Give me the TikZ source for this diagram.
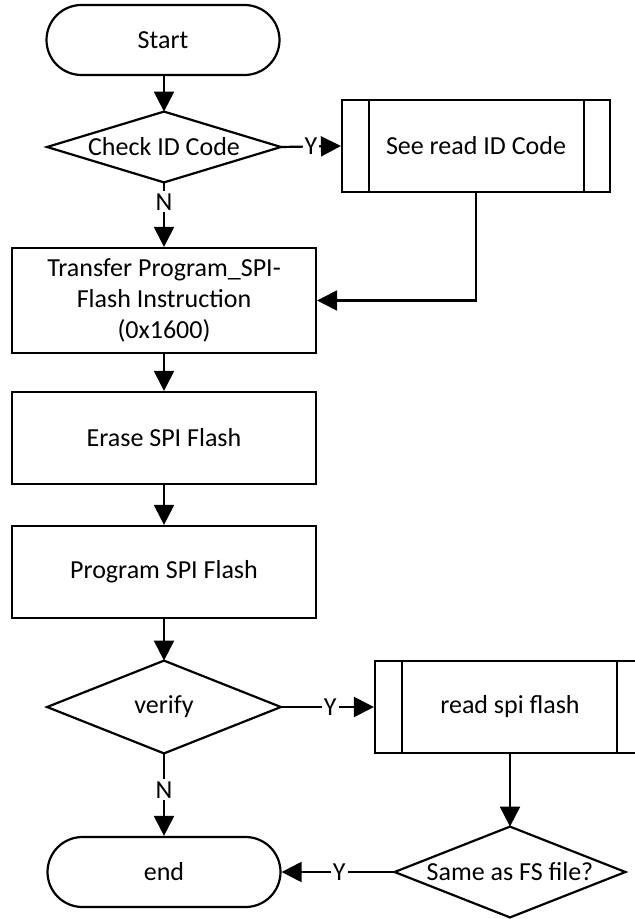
\documentclass[tikz,border=0pt]{standalone}
\usepackage{fontspec}
\setmainfont{Carlito}
\usetikzlibrary{arrows.meta}
\begin{document}
\begin{tikzpicture}[x=0.5pt,y=-0.5pt,
  every node/.style={font=\fontsize{13}{15.5}\selectfont},
  line/.style={line width=1.1pt},
  arr/.style={line, -{Triangle[length=10pt,width=10pt]}},
  term/.style={draw, line width=1.1pt, rounded corners=17.5pt, minimum width=116.5pt, minimum height=35pt, inner sep=0pt},
  proc/.style={draw, line width=1.1pt, minimum width=152pt, minimum height=46pt, inner sep=0pt, align=center},
  subr/.style={draw, line width=1.1pt, minimum width=134pt, minimum height=46pt, inner sep=0pt},
  dec/.style={minimum width=116.5pt, minimum height=35pt, inner sep=0pt},
  lab/.style={fill=white, inner sep=1pt}]
\useasboundingbox (0,0) rectangle (635,919);
\clip (0,0) rectangle (635,919);

% nodes
\node[term] (start) at (163,40) {Start};
\node[dec] (check) at (164,147) {Check ID Code};
\draw[line] (check.north) -- (check.east) -- (check.south) -- (check.west) -- cycle;
\node[subr] (seeid) at (476,146) {See read ID Code};
\draw[line] ([xshift=14pt]seeid.north west) -- ([xshift=14pt]seeid.south west);
\draw[line] ([xshift=-13.5pt]seeid.north east) -- ([xshift=-13.5pt]seeid.south east);
\node[proc, minimum height=52.5pt] (transfer) at (164,300.5) {Transfer Program\_SPI-\\Flash Instruction\\(0x1600)};
\node[proc] (erase) at (164,438) {Erase SPI Flash};
\node[proc] (program) at (164,572) {Program SPI Flash};
\node[dec, minimum height=46pt] (verify) at (164,707) {verify};
\draw[line] (verify.north) -- (verify.east) -- (verify.south) -- (verify.west) -- cycle;
\node[subr, minimum width=135pt] (readspi) at (510,707) {read spi flash};
\draw[line] ([xshift=14pt]readspi.north west) -- ([xshift=14pt]readspi.south west);
\draw[line] ([xshift=-14.5pt]readspi.north east) -- ([xshift=-14.5pt]readspi.south east);
\node[dec, minimum width=115pt, minimum height=45pt] (same) at (510,872) {Same as FS file?};
\draw[line] (same.north) -- (same.east) -- (same.south) -- (same.west) -- cycle;
\node[term] (end) at (164,872) {end};

% connectors
\draw[arr] (start.south -| check.north) -- (check.north);
\draw[arr] (check.east) -- node[lab, pos=0.5] {Y} (seeid.west);
\draw[arr] (check.south) -- node[lab, pos=0.3] {N} (transfer.north);
\draw[arr] (seeid.south) |- (transfer.east);
\draw[arr] (transfer.south) -- (erase.north);
\draw[arr] (erase.south) -- (program.north);
\draw[arr] (program.south) -- (verify.north);
\draw[arr] (verify.east) -- node[lab, pos=0.53] {Y} (readspi.west);
\draw[arr] (verify.south) -- node[lab, pos=0.44] {N} (end.north);
\draw[arr] (readspi.south) -- (same.north);
\draw[arr] (same.west) -- node[lab, pos=0.49] {Y} (end.east);
\end{tikzpicture}
\end{document}
